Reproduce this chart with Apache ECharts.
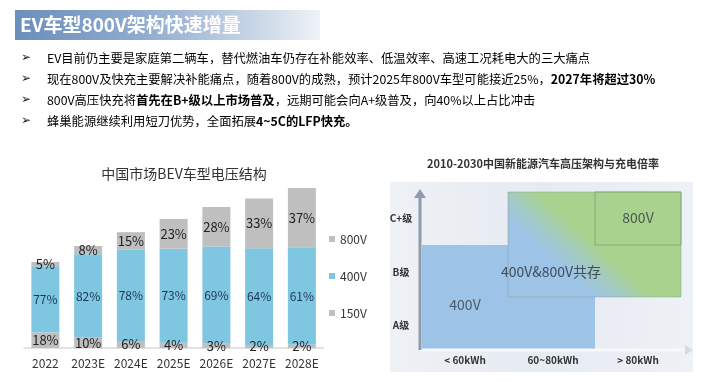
<!DOCTYPE html>
<html>
<head>
<meta charset="utf-8">
<script src="https://cdn.jsdelivr.net/npm/echarts@6/dist/echarts.min.js"></script>
<style>
html,body{margin:0;padding:0;background:#fff;}
#c{width:725px;height:383px;}
</style>
</head>
<body>
<div id="c"></div>
<script>
// ---- data ----
var categories = ['2022', '2023E', '2024E', '2025E', '2026E', '2027E', '2028E'];
var pct150 = [18, 10, 6, 4, 3, 2, 2];
var pct400 = [77, 82, 78, 73, 69, 64, 61];
var pct800 = [5, 8, 15, 23, 28, 33, 37];
// relative total bar height (market size index)
var totals = [86, 102, 117, 129, 141, 151, 160];
var legendOrder = ['800V', '400V', '150V'];

var slideTitle = 'EV车型800V架构快速增量';
var chartTitle = '中国市场BEV车型电压结构';
var diagramTitle = '2010-2030中国新能源汽车高压架构与充电倍率';
var bullets = [
  [['n', 'EV目前仍主要是家庭第二辆车，替代燃油车仍存在补能效率、低温效率、高速工况耗电大的三大痛点']],
  [['n', '现在800V及快充主要解决补能痛点，随着800V的成熟，预计2025年800V车型可能接近25%，'], ['b', '2027年将超过30%']],
  [['n', '800V高压快充将'], ['b', '首先在B+级以上市场普及'], ['n', '，远期可能会向A+级普及，向40%以上占比冲击']],
  [['n', '蜂巢能源继续利用短刀优势，全面拓展'], ['b', '4~5C的LFP快充。']]
];
var diagYLabels = ['C+级', 'B级', 'A级'];
var diagXLabels = ['< 60kWh', '60~80kWh', '> 80kWh'];

function scaled(p) { return p.map(function (v, i) { return +(totals[i] * v / 100).toFixed(2); }); }

var FONT = '"Noto Sans CJK SC", "Noto Sans", sans-serif';
var GREY = '#bfbfbf', BLUE = '#7fc6e1';

var chart = echarts.init(document.getElementById('c'));

var graphics = [];
// title banner
graphics.push({
  type: 'rect', shape: { x: 15, y: 10, width: 305, height: 30 },
  style: { fill: { type: 'linear', x: 0, y: 0, x2: 1, y2: 0, global: false,
    colorStops: [{ offset: 0, color: '#6b8ebb' }, { offset: 0.45, color: '#93aed0' }, { offset: 0.85, color: '#d3deeb' }, { offset: 1, color: '#f0f3f8' }] } },
  silent: true
});
graphics.push({
  type: 'text', x: 20, y: 25,
  style: { text: slideTitle, fill: '#ffffff', font: 'bold 19px ' + FONT, verticalAlign: 'middle' }
});
// bullets
var bulletY = [58, 79, 100, 121];
bullets.forEach(function (parts, i) {
  graphics.push({ type: 'text', x: 21, y: bulletY[i],
    style: { text: '➢', fill: '#222', font: '12px "DejaVu Sans"', verticalAlign: 'middle' } });
  graphics.push({ type: 'text', x: 47, y: bulletY[i],
    style: {
      text: parts.map(function (p) { return '{' + p[0] + '|' + p[1] + '}'; }).join(''),
      verticalAlign: 'middle',
      rich: {
        n: { fontFamily: FONT, fontSize: 12.3, color: '#222' },
        b: { fontFamily: FONT, fontSize: 12.3, fontWeight: 'bold', color: '#111' }
      }
    } });
});
// chart title
graphics.push({ type: 'text', x: 184, y: 174,
  style: { text: chartTitle, fill: '#333', font: '14px ' + FONT, align: 'center', verticalAlign: 'middle' } });

// ---- right diagram (illustration) ----
graphics.push({ type: 'text', x: 543, y: 164,
  style: { text: diagramTitle, fill: '#333', font: 'bold 11px ' + FONT, align: 'center', verticalAlign: 'middle' } });
graphics.push({ type: 'rect', shape: { x: 390, y: 182, width: 303, height: 190 },
  style: { fill: { type: 'linear', x: 0, y: 0, x2: 1, y2: 0, colorStops: [{ offset: 0, color: '#eef1f5' }, { offset: 0.5, color: '#e6ebf2' }, { offset: 1, color: '#eef1f6' }] } }, silent: true });
// blue 400V region
graphics.push({ type: 'polygon', shape: { points: [[422, 245], [508, 245], [508, 297], [595, 297], [595, 349], [422, 349]] },
  style: { fill: '#9dc3e6' }, silent: true });
// coexist gradient block
graphics.push({ type: 'rect', shape: { x: 508, y: 192, width: 173, height: 105 },
  style: { fill: { type: 'linear', global: true, x: 551.7, y: 259.4, x2: 578.3, y2: 229.6,
    colorStops: [{ offset: 0, color: '#9dc3e6' }, { offset: 0.5, color: '#a2cbc2' }, { offset: 1, color: '#a9d28e' }] },
    stroke: 'rgba(140,150,140,0.45)', lineWidth: 1 }, silent: true });
// 800V box
graphics.push({ type: 'rect', shape: { x: 595, y: 192, width: 86, height: 53 },
  style: { fill: 'none', stroke: '#86ad72', lineWidth: 1 }, silent: true });
// axes
graphics.push({ type: 'line', shape: { x1: 420, y1: 350, x2: 690, y2: 350 }, style: { stroke: '#f7f8fa', lineWidth: 3 } });
graphics.push({ type: 'polygon', shape: { points: [[685, 345], [693, 350], [685, 355]] }, style: { fill: '#d5dbe3' } });
graphics.push({ type: 'line', shape: { x1: 420, y1: 350, x2: 420, y2: 196 }, style: { stroke: '#8d9bad', lineWidth: 3 } });
graphics.push({ type: 'polygon', shape: { points: [[414, 198], [420, 189], [426, 198]] }, style: { fill: '#8d9bad' } });
// axis labels
var dyY = [218, 272, 325];
diagYLabels.forEach(function (t, i) {
  graphics.push({ type: 'text', x: 401, y: dyY[i], style: { text: t, fill: '#333', font: 'bold 10px ' + FONT, align: 'center', verticalAlign: 'middle' } });
});
var dxX = [465, 553, 638];
diagXLabels.forEach(function (t, i) {
  graphics.push({ type: 'text', x: dxX[i], y: 360, style: { text: t, fill: '#333', font: 'bold 10px ' + FONT, align: 'center', verticalAlign: 'middle' } });
});
graphics.push({ type: 'text', x: 465, y: 305, style: { text: '400V', fill: '#4b5a6a', font: '14px ' + FONT, align: 'center', verticalAlign: 'middle' } });
graphics.push({ type: 'text', x: 551, y: 272, style: { text: '400V&800V共存', fill: '#3f4d5c', font: '14px ' + FONT, align: 'center', verticalAlign: 'middle' } });
graphics.push({ type: 'text', x: 638, y: 218, style: { text: '800V', fill: '#4b5a4a', font: '14px ' + FONT, align: 'center', verticalAlign: 'middle' } });

function mkSeries(name, pcts, color, fs, fc) {
  return {
    name: name, type: 'bar', stack: 'v', barWidth: 28,
    data: scaled(pcts),
    itemStyle: { color: color },
    label: {
      show: true, position: 'inside',
      formatter: function (p) { return pcts[p.dataIndex] + '%'; },
      fontFamily: FONT, fontSize: fs, color: fc
    },
    emphasis: { disabled: true }
  };
}

chart.setOption({
  animation: false,
  backgroundColor: '#ffffff',
  grid: { left: 24, right: 401.75, top: 178, bottom: 35 },
  xAxis: {
    type: 'category', data: categories,
    axisLine: { lineStyle: { color: '#d9d9d9', width: 1.5 } },
    axisTick: { show: false },
    axisLabel: { color: '#333', fontFamily: FONT, fontSize: 12, margin: 9, interval: 0 }
  },
  yAxis: { type: 'value', min: 0, max: 170, show: false },
  legend: {
    data: legendOrder, orient: 'vertical', left: 329, top: 233, padding: 0,
    itemWidth: 6, itemHeight: 6, itemGap: 25, icon: 'rect',
    textStyle: { color: '#333', fontFamily: FONT, fontSize: 12 }
  },
  series: [
    mkSeries('150V', pct150, GREY, 13, '#222'),
    mkSeries('400V', pct400, BLUE, 12, '#1d3650'),
    mkSeries('800V', pct800, GREY, 13, '#222')
  ],
  graphic: graphics
});
</script>
</body>
</html>
